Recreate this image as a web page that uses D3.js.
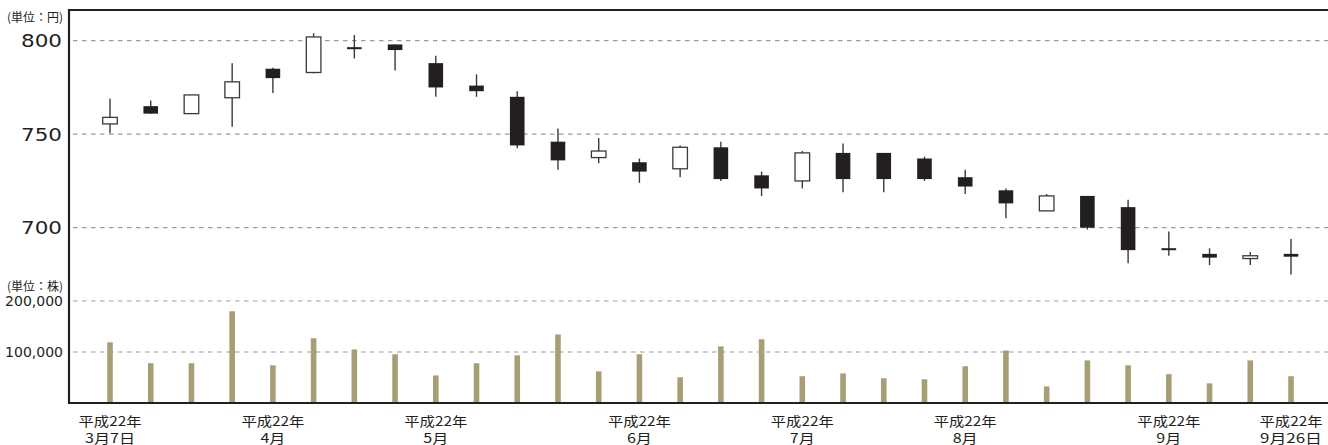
<!DOCTYPE html>
<html>
<head>
<meta charset="utf-8">
<script src="https://cdn.jsdelivr.net/npm/d3@7"></script>
<style>
  body { margin: 0; background: #fff; }
  svg { display: block; font-family: "Noto Sans CJK JP", "DejaVu Sans", sans-serif; }
</style>
</head>
<body>
<div id="chart"></div>
<script>
// weekly candles, 平成22年 3月7日 .. 9月26日
const weeks = d3.range(30);
const openPrices  = [755.5, 765, 761, 769.5, 785, 783, 796, 798, 788, 776, 770, 746, 737.5, 735, 731.5, 743, 728, 725, 740, 740, 737, 727, 720, 709, 717, 711, 688.5, 686, 683.5, 686];
const highPrices  = [769, 768, 771, 788, 785.5, 804, 803, 798, 792, 782, 773, 753, 748, 737, 744, 746, 730, 741, 745, 740, 738, 731, 721, 718, 717, 715, 698, 689, 687, 694];
const lowPrices   = [750.5, 761, 761, 754, 772, 782.5, 790.5, 784, 770, 770, 742.5, 731, 734.5, 724, 727, 725, 717, 721, 719, 719, 725, 718, 705, 709, 699, 681, 685, 680, 680, 675];
const closePrices = [759, 761, 771, 778, 780, 802, 796, 795, 775, 773, 744, 736, 741, 730, 743, 726, 721, 740, 726, 726, 726, 722, 713, 717, 700, 688, 688.5, 684, 685, 684.5];
const volumes = [119000, 78000, 78000, 180000, 74000, 127000, 105000, 95500, 54000, 78000,
                 93500, 134500, 62000, 95500, 50500, 111000, 125000, 52500, 58000, 48500,
                 46500, 72000, 103000, 32500, 83500, 74000, 56500, 38500, 83500, 52500];

const priceTicks = [700, 750, 800];
const volumeTicks = [100000, 200000];
// x labels: week index, first line, second line
const tickWeeks = [0, 4, 8, 13, 17, 21, 26, 29];
const tickLine1 = ["平成22年", "平成22年", "平成22年", "平成22年", "平成22年", "平成22年", "平成22年", "平成22年"];
const tickLine2 = ["3月7日", "4月", "5月", "6月", "7月", "8月", "9月", "9月26日"];

document.addEventListener("DOMContentLoaded", function () {
    const width = 1328, height = 445;
    const left = 69, top = 10, bottom = 403;

    const svg = d3.select("#chart").append("svg")
        .attr("width", width)
        .attr("height", height);

    const x = d3.scalePoint().domain(weeks).range([110, 1291]);
    const yPrice = d3.scaleLinear().domain([700, 800]).range([227.7, 40.7]);
    const yVol = d3.scaleLinear().domain([0, 200000]).range([bottom, 301]);

    // the original uses a wide face: kanji ~13px, digits ~12px
    function wideLength(s) {
        let w = 0;
        for (const ch of s) w += ch.charCodeAt(0) > 255 ? 13 : 12;
        return w;
    }

    // dashed grid lines
    const grid = svg.append("g").attr("stroke", "#9b9b9b").attr("stroke-width", 1.2)
        .attr("stroke-dasharray", "4.5,4.5");
    priceTicks.forEach(function (t) {
        grid.append("line").attr("x1", left + 4).attr("x2", width)
            .attr("y1", yPrice(t)).attr("y2", yPrice(t));
    });
    volumeTicks.forEach(function (t) {
        grid.append("line").attr("x1", left + 4).attr("x2", width)
            .attr("y1", yVol(t)).attr("y2", yVol(t));
    });

    // price axis labels
    priceTicks.forEach(function (t) {
        svg.append("text")
            .attr("x", 21).attr("y", yPrice(t) + 6.5)
            .attr("textLength", 41).attr("lengthAdjust", "spacingAndGlyphs")
            .attr("font-family", "DejaVu Sans")
            .attr("font-size", 17).attr("fill", "#231f20")
            .text(t);
    });
    svg.append("text").attr("x", 63).attr("y", 22).attr("text-anchor", "end")
        .attr("font-size", 12).attr("fill", "#231f20").text("(単位：円)");

    // volume axis labels
    const fmt = d3.format(",");
    volumeTicks.forEach(function (t) {
        svg.append("text")
            .attr("x", 63).attr("y", yVol(t) + 5).attr("text-anchor", "end")
            .attr("font-family", "DejaVu Sans")
            .attr("font-size", 14).attr("fill", "#231f20")
            .text(fmt(t));
    });
    svg.append("text").attr("x", 63).attr("y", 291).attr("text-anchor", "end")
        .attr("font-size", 12).attr("fill", "#231f20").text("(単位：株)");

    // volume bars
    svg.append("g").selectAll("rect")
        .data(volumes)
        .join("rect")
        .attr("x", (d, i) => x(i) - 2.8)
        .attr("width", 5.6)
        .attr("y", d => yVol(d))
        .attr("height", d => bottom - yVol(d))
        .attr("fill", "#a89e76");

    // candles
    const candles = svg.append("g").selectAll("g")
        .data(weeks)
        .join("g");

    candles.append("line")
        .attr("x1", i => x(i)).attr("x2", i => x(i))
        .attr("y1", i => yPrice(highPrices[i]))
        .attr("y2", i => yPrice(lowPrices[i]))
        .attr("stroke", "#3a3a3a").attr("stroke-width", 1.4);

    candles.append("rect")
        .attr("x", i => x(i) - 7.3)
        .attr("width", 14.6)
        .attr("y", function (i) {
            const hi = yPrice(Math.max(openPrices[i], closePrices[i]));
            const lo = yPrice(Math.min(openPrices[i], closePrices[i]));
            return lo - hi < 2 ? (hi + lo) / 2 - 1 : hi;
        })
        .attr("height", function (i) {
            const h = Math.abs(yPrice(openPrices[i]) - yPrice(closePrices[i]));
            return Math.max(h, 2);
        })
        .attr("fill", i => closePrices[i] > openPrices[i] ? "#fff" : "#231f20")
        .attr("stroke", i => closePrices[i] > openPrices[i] ? "#3a3a3a" : "none")
        .attr("stroke-width", 1.3);

    // frame: top, left and bottom lines
    const frame = svg.append("g").attr("stroke", "#231f20").attr("stroke-width", 2.2);
    frame.append("line").attr("x1", left).attr("x2", width).attr("y1", top).attr("y2", top);
    frame.append("line").attr("x1", left).attr("x2", left).attr("y1", top - 1).attr("y2", bottom + 1);
    frame.append("line").attr("x1", left).attr("x2", width).attr("y1", bottom).attr("y2", bottom);

    // x labels, two lines each
    const labels = svg.append("g").attr("font-size", 13).attr("fill", "#231f20")
        .attr("text-anchor", "middle");
    tickWeeks.forEach(function (w, k) {
        labels.append("text").attr("x", x(w)).attr("y", 426)
            .attr("textLength", wideLength(tickLine1[k])).attr("lengthAdjust", "spacingAndGlyphs")
            .text(tickLine1[k]);
        labels.append("text").attr("x", x(w)).attr("y", 442.5)
            .attr("textLength", wideLength(tickLine2[k])).attr("lengthAdjust", "spacingAndGlyphs")
            .text(tickLine2[k]);
    });
});
</script>
</body>
</html>
